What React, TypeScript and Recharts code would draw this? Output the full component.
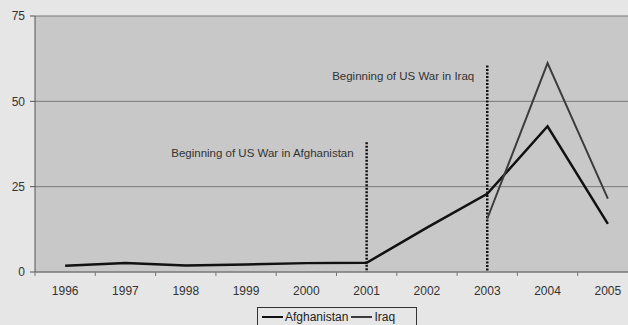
import React from "react";
import {
  LineChart,
  Line,
  XAxis,
  YAxis,
  CartesianGrid,
  ReferenceLine,
  Legend,
} from "recharts";

const years = ["1996", "1997", "1998", "1999", "2000", "2001", "2002", "2003", "2004", "2005"];
const afghanistan = [1.8, 2.6, 1.9, 2.2, 2.6, 2.7, 13, 22.9, 42.7, 14.1];
const iraq = [null, null, null, null, null, null, null, 15.6, 61.2, 21.5];
const yTicks = [0, 25, 50, 75];

const warStarts = [
  { year: "2001", top: 38, label: "Beginning of US War in Afghanistan" },
  { year: "2003", top: 60.5, label: "Beginning of US War in Iraq" },
];

const data = years.map((year, i) => ({
  year,
  Afghanistan: afghanistan[i],
  Iraq: iraq[i],
}));

const CHART_W = 643;
const CHART_H = 325;
const MARGIN = { top: 16, right: 5, bottom: 17, left: 0 };
const Y_W = 35;
const PLOT_W = CHART_W - MARGIN.left - MARGIN.right - Y_W;
const BAND = PLOT_W / years.length;

function YearTick(props: any) {
  const { x, y, payload } = props;
  return (
    <g>
      <line x1={x - BAND / 2} x2={x - BAND / 2} y1={y} y2={y + 4} stroke="#777" />
      <text x={x} y={y + 23} textAnchor="middle" fontSize={12} fill="#333">
        {payload.value}
      </text>
    </g>
  );
}

function WarLabel(props: any) {
  const vb = props.viewBox || {};
  const top = Math.min(vb.y, vb.y + (vb.height || 0));
  return (
    <text x={vb.x - 13} y={top + 15} textAnchor="end" fontSize={11.5} fill="#333">
      {props.text}
    </text>
  );
}

function LegendBox() {
  const item = (name: string, color: string, w: number) => (
    <span style={{ display: "inline-flex", alignItems: "center", marginRight: 3 }}>
      <span style={{ display: "inline-block", width: 21, height: 0, borderTop: `${w}px solid ${color}`, marginRight: 2 }} />
      {name}
    </span>
  );
  return (
    <div
      style={{
        boxSizing: "border-box",
        width: 160,
        height: 20,
        border: "1px solid #333",
        fontSize: 12,
        color: "#222",
        display: "flex",
        alignItems: "center",
        paddingLeft: 4,
        background: "#e6e6e6",
      }}
    >
      {item("Afghanistan", "#111", 2.5)}
      {item("Iraq", "#3c3c3c", 2)}
    </div>
  );
}

export default function App() {
  return (
    <div
      style={{
        width: 628,
        height: 325,
        overflow: "hidden",
        background: "#e6e6e6",
        fontFamily: "'Liberation Sans', Arial, sans-serif",
        position: "relative",
      }}
    >
      <style>{"body{margin:0}"}</style>
      <LineChart width={CHART_W} height={CHART_H} data={data} margin={MARGIN}>
        <CartesianGrid vertical={false} stroke="#7a7a7a" fill="#c8c8c8" />
        <XAxis
          dataKey="year"
          height={36}
          padding={{ left: BAND / 2, right: BAND / 2 }}
          tickLine={false}
          tickSize={0}
          tickMargin={0}
          axisLine={{ stroke: "#777" }}
          tick={<YearTick />}
          interval={0}
        />
        <YAxis
          width={Y_W}
          domain={[0, 75]}
          ticks={yTicks}
          tickSize={5}
          tickMargin={5}
          axisLine={{ stroke: "#555" }}
          tickLine={{ stroke: "#555" }}
          tick={{ fontSize: 12, fill: "#333" }}
        />
        {warStarts.map((w) => (
          <ReferenceLine
            key={w.year}
            segment={[
              { x: w.year, y: w.top },
              { x: w.year, y: 0 },
            ]}
            stroke="#111"
            strokeWidth={2.5}
            strokeDasharray="2 1.5"
            label={<WarLabel text={w.label} />}
          />
        ))}
        <Line
          type="linear"
          dataKey="Afghanistan"
          stroke="#111"
          strokeWidth={2.5}
          dot={false}
          isAnimationActive={false}
        />
        <Line
          type="linear"
          dataKey="Iraq"
          stroke="#3c3c3c"
          strokeWidth={2}
          dot={false}
          isAnimationActive={false}
        />
        <Legend
          layout="horizontal"
          verticalAlign="middle"
          align="center"
          content={<LegendBox />}
          wrapperStyle={{ top: 307, left: 257, width: 160, height: 20 }}
        />
      </LineChart>
    </div>
  );
}
